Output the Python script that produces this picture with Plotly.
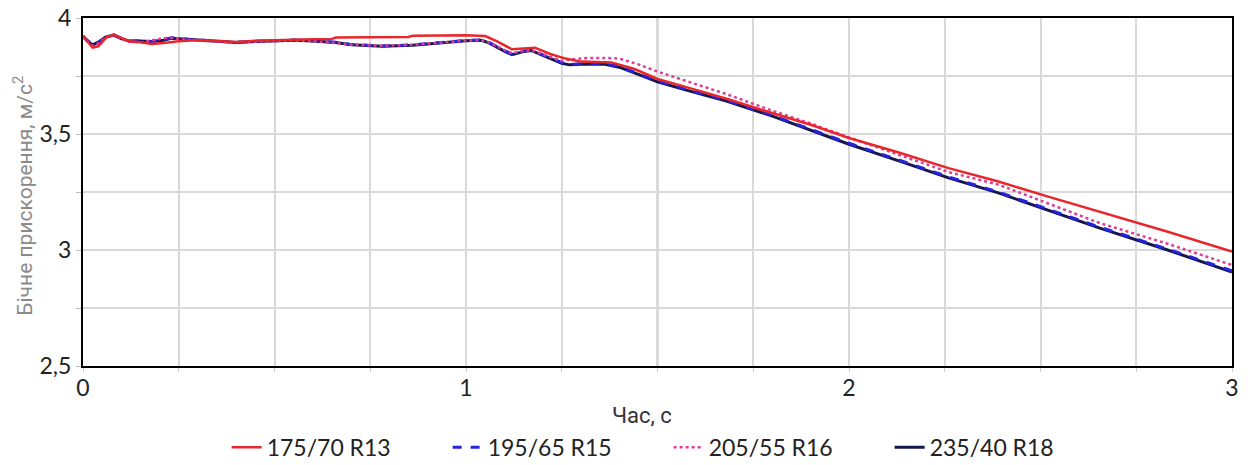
import plotly.graph_objects as go

# ---------------- data ----------------
t_r13 = [0, 0.01, 0.025, 0.04, 0.06, 0.08, 0.10, 0.12, 0.15, 0.18, 0.21, 0.25, 0.30, 0.35,
         0.40, 0.45, 0.50, 0.55, 0.60, 0.65, 0.66, 0.75, 0.85, 0.86, 0.95, 1.00, 1.05, 1.08,
         1.12, 1.15, 1.18, 1.22, 1.26, 1.30, 1.38, 1.44, 1.50, 1.58, 1.68, 1.78, 1.90, 2.00,
         2.13, 2.26, 2.39, 2.52, 2.655, 2.83, 3.00]
y_r13 = [3.922, 3.900, 3.872, 3.878, 3.915, 3.928, 3.915, 3.900, 3.895, 3.888, 3.892, 3.900,
         3.905, 3.902, 3.897, 3.902, 3.905, 3.907, 3.908, 3.910, 3.916, 3.917, 3.918, 3.924,
         3.926, 3.926, 3.922, 3.900, 3.865, 3.868, 3.872, 3.845, 3.825, 3.812, 3.808, 3.780,
         3.737, 3.700, 3.652, 3.600, 3.540, 3.483, 3.420, 3.353, 3.295, 3.230, 3.165, 3.080,
         2.993]

t_r15 = [0, 0.01, 0.025, 0.04, 0.06, 0.08, 0.10, 0.12, 0.15, 0.18, 0.21, 0.23, 0.26, 0.30,
         0.35, 0.40, 0.45, 0.50, 0.55, 0.60, 0.66, 0.70, 0.78, 0.86, 0.95, 1.00, 1.04, 1.06,
         1.10, 1.12, 1.15, 1.17, 1.21, 1.25, 1.27, 1.30, 1.36, 1.40, 1.45, 1.50, 1.58, 1.68,
         1.80, 1.90, 2.00, 2.13, 2.26, 2.39, 2.52, 2.655, 2.83, 3.00]
y_r15 = [3.922, 3.905, 3.885, 3.895, 3.918, 3.927, 3.912, 3.900, 3.902, 3.898, 3.905, 3.915,
         3.910, 3.905, 3.900, 3.895, 3.900, 3.903, 3.905, 3.902, 3.895, 3.886, 3.879, 3.884,
         3.898, 3.903, 3.905, 3.895, 3.860, 3.845, 3.858, 3.862, 3.835, 3.808, 3.800, 3.803,
         3.804, 3.790, 3.760, 3.728, 3.690, 3.645, 3.580, 3.520, 3.460, 3.388, 3.315, 3.250,
         3.175, 3.098, 3.005, 2.910]

t_r16 = [0, 0.01, 0.025, 0.04, 0.06, 0.08, 0.10, 0.12, 0.15, 0.18, 0.21, 0.23, 0.26, 0.30,
         0.35, 0.40, 0.45, 0.50, 0.55, 0.60, 0.66, 0.70, 0.78, 0.86, 0.95, 1.00, 1.04, 1.06,
         1.10, 1.12, 1.15, 1.17, 1.21, 1.25, 1.28, 1.31, 1.36, 1.40, 1.45, 1.50, 1.60, 1.68,
         1.80, 1.90, 2.00, 2.13, 2.26, 2.39, 2.52, 2.655, 2.83, 3.00]
y_r16 = [3.922, 3.902, 3.880, 3.890, 3.918, 3.927, 3.912, 3.898, 3.895, 3.905, 3.912, 3.915,
         3.908, 3.903, 3.900, 3.895, 3.898, 3.902, 3.904, 3.900, 3.893, 3.885, 3.880, 3.885,
         3.897, 3.902, 3.904, 3.895, 3.862, 3.848, 3.858, 3.862, 3.838, 3.815, 3.822, 3.827,
         3.828, 3.825, 3.800, 3.769, 3.715, 3.672, 3.600, 3.545, 3.485, 3.410, 3.336, 3.282,
         3.200, 3.116, 3.028, 2.935]

t_r18 = [0, 0.01, 0.025, 0.04, 0.06, 0.08, 0.10, 0.12, 0.15, 0.18, 0.21, 0.23, 0.26, 0.30,
         0.35, 0.40, 0.45, 0.50, 0.55, 0.60, 0.66, 0.70, 0.78, 0.86, 0.95, 1.00, 1.04, 1.06,
         1.10, 1.12, 1.15, 1.17, 1.21, 1.25, 1.27, 1.30, 1.36, 1.40, 1.45, 1.50, 1.58, 1.68,
         1.80, 1.90, 2.00, 2.13, 2.26, 2.39, 2.52, 2.655, 2.83, 3.00]
y_r18 = [3.920, 3.903, 3.884, 3.896, 3.919, 3.926, 3.911, 3.901, 3.901, 3.899, 3.904, 3.913,
         3.909, 3.904, 3.899, 3.894, 3.899, 3.902, 3.904, 3.901, 3.894, 3.885, 3.878, 3.883,
         3.897, 3.902, 3.904, 3.893, 3.857, 3.842, 3.855, 3.860, 3.832, 3.805, 3.798, 3.801,
         3.802, 3.788, 3.757, 3.725, 3.687, 3.642, 3.577, 3.516, 3.456, 3.384, 3.311, 3.246,
         3.171, 3.094, 3.001, 2.905]

names = ["175/70 R13", "195/65 R15", "205/55 R16", "235/40 R18"]
x_ticks = [0, 1, 2, 3]
x_tick_text = ["0", "1", "2", "3"]
y_ticks = [2.5, 3, 3.5, 4]
y_tick_text = ["2,5", "3", "3,5", "4"]

# ---------------- figure ----------------
fig = go.Figure()

fig.add_trace(go.Scatter(x=t_r18, y=y_r18, name=names[3], mode="lines",
                         line=dict(color="#161650", width=3), legendrank=4))
fig.add_trace(go.Scatter(x=t_r15, y=y_r15, name=names[1], mode="lines",
                         line=dict(color="#2424dc", width=3, dash="dash"), legendrank=2))
fig.add_trace(go.Scatter(x=t_r16, y=y_r16, name=names[2], mode="lines",
                         line=dict(color="#dd3d92", width=2.5, dash="dot"), legendrank=3))
fig.add_trace(go.Scatter(x=t_r13, y=y_r13, name=names[0], mode="lines",
                         line=dict(color="#e8262b", width=2.5), legendrank=1))

grid_col = "#d9d9d9"
tick_font = dict(family="Lato, Liberation Sans, sans-serif", size=23, color="#222222")

fig.update_xaxes(range=[0, 3], tickvals=x_ticks, ticktext=x_tick_text,
                 showgrid=True, gridcolor=grid_col, gridwidth=2,
                 showline=True, linecolor="black", linewidth=2, mirror=True,
                 ticks="", zeroline=False, tickfont=tick_font,
                 minor=dict(dtick=0.25, showgrid=True, gridcolor=grid_col, gridwidth=2,
                            ticks="outside", ticklen=4, tickcolor="#cccccc"))
fig.update_yaxes(range=[2.5, 4], tickvals=y_ticks, ticktext=y_tick_text,
                 showgrid=True, gridcolor=grid_col, gridwidth=2,
                 showline=True, linecolor="black", linewidth=2, mirror=True,
                 ticks="outside", ticklen=5, tickcolor="#bbbbbb", zeroline=False,
                 tickfont=tick_font,
                 minor=dict(dtick=0.25, showgrid=True, gridcolor=grid_col, gridwidth=2,
                            ticks="outside", ticklen=5, tickcolor="#bbbbbb"))

fig.add_shape(type="line", xref="x", yref="paper", x0=1.5, x1=1.5, y0=0, y1=1,
              line=dict(color="#b8b8b8", width=2), layer="below")

fig.update_layout(
    width=1253, height=465,
    margin=dict(l=83, r=21, t=18, b=99, autoexpand=False),
    paper_bgcolor="white", plot_bgcolor="white",
    showlegend=True,
    legend=dict(orientation="h", x=0.125, xanchor="left", y=-0.172, yanchor="top",
                font=dict(family="Lato, Liberation Sans, sans-serif", size=23, color="#222222"),
                entrywidth=176, entrywidthmode="pixels", itemwidth=30,
                bgcolor="rgba(0,0,0,0)"),
    annotations=[
        dict(text="Бічне прискорення, м/с<sup>2</sup>", xref="paper", yref="paper",
             x=-0.052, y=0.49, xanchor="center", yanchor="middle", textangle=-90,
             showarrow=False, font=dict(family="Roboto, sans-serif", size=21, color="#8a8a8a")),
        dict(text="Час, с", xref="paper", yref="paper",
             x=(642 - 83) / 1149, y=-0.142, xanchor="center", yanchor="middle",
             showarrow=False, font=dict(family="Roboto, sans-serif", size=22, color="#333333")),
    ],
)

fig.write_html("out.html")
